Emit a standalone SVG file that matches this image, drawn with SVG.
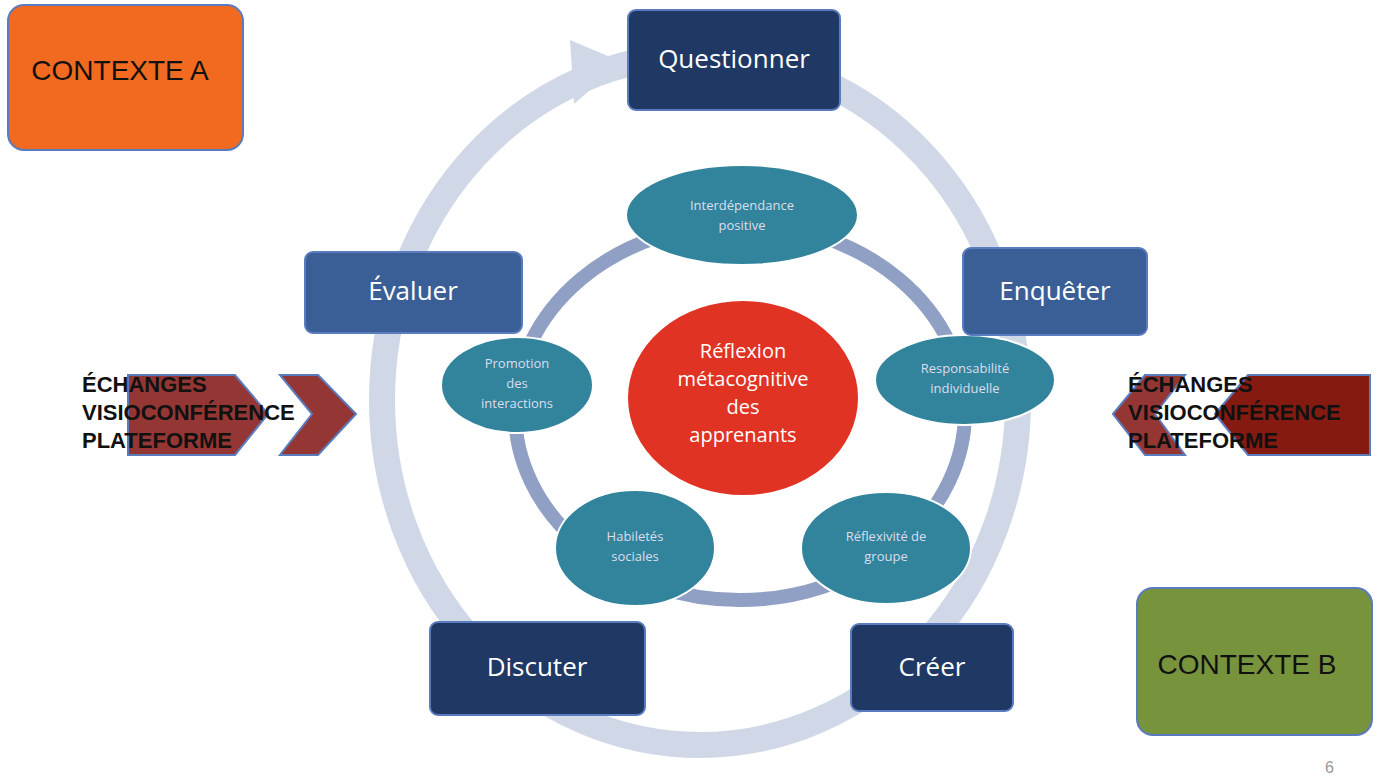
<svg xmlns="http://www.w3.org/2000/svg" width="1382" height="778" viewBox="0 0 1382 778">
<style>
.box{stroke:#5a7bbd;stroke-width:2}
.bt{font-family:"Open Sans","Liberation Sans",sans-serif;font-size:26px;fill:#fff;text-anchor:middle}
.el{fill:#31849b;stroke:#fff;stroke-width:2}
.et{font-family:"Open Sans","Liberation Sans",sans-serif;font-size:13px;fill:#dde;text-anchor:middle}
.ct{font-family:"Liberation Sans",sans-serif;font-size:28px;fill:#111;text-anchor:middle}
.ex{font-family:"Liberation Sans",sans-serif;font-weight:bold;font-size:22px;fill:#111}
.ch{fill:#943634;stroke:#5a7bbd;stroke-width:2}
</style>
<rect width="1382" height="778" fill="#fff"/>
<g id="connectors">
<ellipse cx="700" cy="400" rx="318" ry="345" fill="none" stroke="#d0d8e8" stroke-width="26"/>
<polygon points="570,40 622,62 574,104" fill="#d0d8e8"/>
<ellipse cx="740" cy="412" rx="225" ry="188" fill="none" stroke="#8fa0c4" stroke-width="14"/>
</g>
<g id="center"><ellipse cx="743" cy="398" rx="116" ry="98" fill="#e03324" stroke="#fff" stroke-width="2"/>
<text class="bt" font-size="20" x="743" y="358" style="font-size:20px">Réflexion</text>
<text class="bt" x="743" y="386" style="font-size:20px">métacognitive</text>
<text class="bt" x="743" y="414" style="font-size:20px">des</text>
<text class="bt" x="743" y="442" style="font-size:20px">apprenants</text></g>
<g id="interdependance"><ellipse class="el" cx="742" cy="215" rx="116" ry="50"/><text class="et" x="742" y="210">Interdépendance</text><text class="et" x="742" y="230">positive</text></g>
<g id="responsabilite"><ellipse class="el" cx="965" cy="380" rx="90" ry="45"/><text class="et" x="965" y="373">Responsabilité</text><text class="et" x="965" y="393">individuelle</text></g>
<g id="reflexivite"><ellipse class="el" cx="886" cy="548" rx="85" ry="56"/><text class="et" x="886" y="541">Réflexivité de</text><text class="et" x="886" y="561">groupe</text></g>
<g id="habiletes"><ellipse class="el" cx="635" cy="548" rx="80" ry="58"/><text class="et" x="635" y="541">Habiletés</text><text class="et" x="635" y="561">sociales</text></g>
<g id="promotion"><ellipse class="el" cx="517" cy="385" rx="76" ry="48"/><text class="et" x="517" y="368">Promotion</text><text class="et" x="517" y="388">des</text><text class="et" x="517" y="408">interactions</text></g>
<g id="questionner"><rect class="box" x="628" y="10" width="212" height="100" rx="8" fill="#1f3864"/><text class="bt" x="734" y="68">Questionner</text></g>
<g id="enqueter"><rect class="box" x="963" y="248" width="184" height="87" rx="8" fill="#3a5f96"/><text class="bt" x="1055" y="300">Enquêter</text></g>
<g id="creer"><rect class="box" x="851" y="624" width="162" height="87" rx="8" fill="#1f3864"/><text class="bt" x="932" y="676">Créer</text></g>
<g id="discuter"><rect class="box" x="430" y="622" width="215" height="93" rx="8" fill="#1f3864"/><text class="bt" x="537" y="676">Discuter</text></g>
<g id="evaluer"><rect class="box" x="305" y="252" width="217" height="81" rx="8" fill="#3a5f96"/><text class="bt" x="413" y="300">Évaluer</text></g>
<g id="contexteA"><rect x="8" y="5" width="235" height="145" rx="16" fill="#f26a1f" stroke="#5a7bbd" stroke-width="2"/><text class="ct" x="120" y="80">CONTEXTE A</text></g>
<g id="contexteB"><rect x="1137" y="588" width="235" height="147" rx="16" fill="#77933c" stroke="#5a7bbd" stroke-width="2"/><text class="ct" x="1247" y="674">CONTEXTE B</text></g>
<g id="echangesLeft">
<polygon class="ch" points="128,375 235,375 268,414 235,455 128,455"/>
<polygon class="ch" points="280,375 318,375 356,414 318,455 280,455 312,414"/>
<text class="ex" x="82" y="392">ÉCHANGES</text><text class="ex" x="82" y="420">VISIOCONFÉRENCE</text><text class="ex" x="82" y="448">PLATEFORME</text></g>
<g id="echangesRight">
<polygon class="ch" points="1113,414 1145,375 1185,375 1155,414 1185,455 1145,455"/>
<polygon class="ch" points="1248,375 1370,375 1370,455 1248,455 1215,414" fill="#7f1d12" style="fill:#851b10"/>
<text class="ex" x="1128" y="392">ÉCHANGES</text><text class="ex" x="1128" y="420">VISIOCONFÉRENCE</text><text class="ex" x="1128" y="448">PLATEFORME</text></g>
<text x="1325" y="773" font-family="Liberation Sans,sans-serif" font-size="16" fill="#999">6</text>
</svg>
